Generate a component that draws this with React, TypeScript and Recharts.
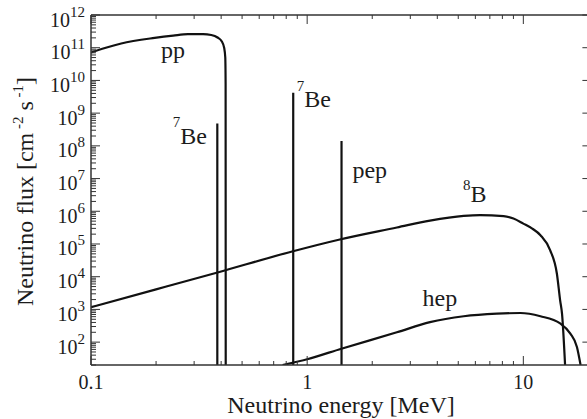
import React from 'react';
import { LineChart, Line, XAxis, YAxis, ReferenceDot } from 'recharts';

const FONT = 'Liberation Serif';
const INK = '#1c1c1c';
const FRAME = '#333';

// solar neutrino spectra, energy [MeV] vs flux [cm^-2 s^-1]
const ppSpectrum = [
  { e: 0.1, f: 7.1e10 }, { e: 0.116, f: 9.8e10 }, { e: 0.138, f: 1.35e11 },
  { e: 0.197, f: 2.0e11 }, { e: 0.24, f: 2.35e11 }, { e: 0.281, f: 2.6e11 },
  { e: 0.33, f: 2.6e11 }, { e: 0.36, f: 2.45e11 }, { e: 0.385, f: 2.05e11 },
  { e: 0.403, f: 1.55e11 }, { e: 0.413, f: 1.0e11 }, { e: 0.418, f: 5e10 }, { e: 0.4195, f: 8e9 },
  { e: 0.42, f: 20 },
];
const b8Spectrum = [
  { e: 0.1, f: 1.17e3 }, { e: 0.2, f: 4.1e3 }, { e: 0.385, f: 1.35e4 }, { e: 0.86, f: 6.0e4 },
  { e: 1.4, f: 1.35e5 }, { e: 2.6, f: 3.2e5 }, { e: 3.7, f: 5.2e5 }, { e: 5.3, f: 7.2e5 },
  { e: 6.3, f: 7.6e5 }, { e: 8.1, f: 7.1e5 }, { e: 9, f: 6.0e5 }, { e: 10, f: 4.2e5 },
  { e: 11, f: 2.95e5 }, { e: 12, f: 1.86e5 }, { e: 13.3, f: 6.5e4 }, { e: 14.3, f: 1.23e4 },
  { e: 14.8, f: 1.9e3 }, { e: 15.1, f: 740 }, { e: 15.6, f: 20 },
];
const hepSpectrum = [
  { e: 0.77, f: 20 }, { e: 1.0, f: 30 }, { e: 1.44, f: 63 }, { e: 2.6, f: 200 },
  { e: 3.7, f: 407 }, { e: 5.3, f: 617 }, { e: 7.55, f: 741 }, { e: 9.7, f: 776 },
  { e: 12, f: 617 }, { e: 14.8, f: 372 }, { e: 16.5, f: 182 }, { e: 17.7, f: 71 }, { e: 18.4, f: 20 },
];
// mono-energetic lines
const be7Low = [{ e: 0.384, f: 20 }, { e: 0.384, f: 4.8e8 }];
const be7High = [{ e: 0.862, f: 20 }, { e: 0.862, f: 4.2e9 }];
const pepLine = [{ e: 1.442, f: 20 }, { e: 1.442, f: 1.4e8 }];

const xMajor = [0.1, 1, 10];
const xMinor = [0.2, 0.3, 0.4, 0.5, 0.6, 0.7, 0.8, 0.9, 2, 3, 4, 5, 6, 7, 8, 9];
const yExponents = [2, 3, 4, 5, 6, 7, 8, 9, 10, 11, 12];
const yMinorDecades = [1, 2, 3, 4, 5, 6, 7, 8, 9, 10, 11];
const minorSteps = [2, 3, 4, 5, 6, 7, 8, 9];

const xTicks = [...xMajor, ...xMinor].sort((a, b) => a - b);
const yMajor = yExponents.map((n) => Math.pow(10, n));
const yTicks = [
  ...yMajor,
  ...yMinorDecades.flatMap((n) => minorSteps.map((k) => k * Math.pow(10, n))),
].sort((a, b) => a - b);

const isMajorX = (v: number) => xMajor.some((m) => Math.abs(m - v) < 1e-9);
const isMajorY = (v: number) => yMajor.some((m) => Math.abs(m - v) / m < 1e-9);

const BottomTick = ({ x, y, payload }: any) => {
  const major = isMajorX(payload.value);
  return (
    <g>
      <line x1={x} x2={x} y1={y} y2={y - (major ? 9 : 4)} stroke={FRAME} strokeWidth={1} />
      {major && (
        <text x={x} y={y + 23.5} textAnchor="middle" fontSize={20} fontFamily={FONT} fill={INK}>
          {String(payload.value)}
        </text>
      )}
    </g>
  );
};

const TopTick = ({ x, y, payload }: any) => {
  const major = isMajorX(payload.value);
  return <line x1={x} x2={x} y1={y} y2={y + (major ? 9 : 4)} stroke={FRAME} strokeWidth={1} />;
};

const LeftTick = ({ x, y, payload }: any) => {
  const major = isMajorY(payload.value);
  const exp = Math.round(Math.log10(payload.value));
  return (
    <g>
      <line x1={x} x2={x + (major ? 9 : 5)} y1={y} y2={y} stroke={FRAME} strokeWidth={1} />
      {major && (
        <text x={x - 6} y={y + 11.5} textAnchor="end" fontSize={20} fontFamily={FONT} fill={INK}>
          <tspan>10</tspan>
          <tspan dy={-10} fontSize={15}>{exp}</tspan>
        </text>
      )}
    </g>
  );
};

const RightTick = ({ x, y, payload }: any) =>
  isMajorY(payload.value) ? (
    <line x1={x} x2={x - 6} y1={y} y2={y} stroke={FRAME} strokeWidth={1} />
  ) : (
    <g />
  );

const tagShape = (sup: string, main: string, raise: number) => (p: any) => (
  <text x={p.cx} y={p.cy} fontSize={24} fontFamily={FONT} fill={INK}>
    {sup && <tspan fontSize={15} dy={-raise}>{sup}</tspan>}
    <tspan dy={sup ? raise : 0}>{main}</tspan>
  </text>
);

const curve = { stroke: '#111', strokeWidth: 2.2, dot: false, isAnimationActive: false, xAxisId: 'b', yAxisId: 'l', dataKey: 'f' };

export default function App() {
  return (
    <div style={{ position: 'absolute', left: 0, top: 0, width: 587, height: 419, overflow: 'hidden', background: '#fff' }}>
      <LineChart width={590} height={419} margin={{ top: 0, right: 0, bottom: 0, left: 0 }}>
        <XAxis xAxisId="b" dataKey="e" type="number" scale="log" domain={[0.1, 20]} allowDataOverflow
          ticks={xTicks} interval={0} height={54} tickSize={0} tickMargin={0} tickLine={false}
          axisLine={{ stroke: FRAME, strokeWidth: 1.5 }} tick={BottomTick} />
        <XAxis xAxisId="t" orientation="top" dataKey="e" type="number" scale="log" domain={[0.1, 20]} allowDataOverflow
          ticks={xTicks} interval={0} height={15} tickSize={0} tickMargin={0} tickLine={false}
          axisLine={{ stroke: FRAME, strokeWidth: 1.5 }} tick={TopTick} />
        <YAxis yAxisId="l" type="number" scale="log" domain={[20, 1e12]} allowDataOverflow
          ticks={yTicks} interval={0} width={91} tickSize={0} tickMargin={0} tickLine={false}
          axisLine={{ stroke: FRAME, strokeWidth: 1.5 }} tick={LeftTick} />
        <YAxis yAxisId="r" orientation="right" type="number" scale="log" domain={[20, 1e12]} allowDataOverflow
          ticks={yMajor} interval={0} width={1.6} tickSize={0} tickMargin={0} tickLine={false}
          axisLine={{ stroke: FRAME, strokeWidth: 1.5 }} tick={RightTick} />

        <Line data={ppSpectrum} type="monotone" {...curve} />
        <Line data={b8Spectrum} type="monotone" {...curve} />
        <Line data={hepSpectrum} type="monotone" {...curve} />
        <Line data={be7Low} type="linear" {...curve} />
        <Line data={be7High} type="linear" {...curve} />
        <Line data={pepLine} type="linear" {...curve} />

        <ReferenceDot xAxisId="b" yAxisId="l" x={0.211} y={4.7e10} r={0} shape={tagShape('', 'pp', 0)} />
        <ReferenceDot xAxisId="b" yAxisId="l" x={0.239} y={1.17e8} r={0} shape={tagShape('7', 'Be', 16.5)} />
        <ReferenceDot xAxisId="b" yAxisId="l" x={0.896} y={1.5e9} r={0} shape={tagShape('7', 'Be', 16.5)} />
        <ReferenceDot xAxisId="b" yAxisId="l" x={1.62} y={1.02e7} r={0} shape={tagShape('', 'pep', 0)} />
        <ReferenceDot xAxisId="b" yAxisId="l" x={5.26} y={1.95e6} r={0} shape={tagShape('8', 'B', 11.5)} />
        <ReferenceDot xAxisId="b" yAxisId="l" x={3.42} y={1.26e3} r={0} shape={tagShape('', 'hep', 0)} />

        <text x={341} y={412.5} textAnchor="middle" fontSize={24} fontFamily={FONT} fill={INK}>
          Neutrino energy [MeV]
        </text>
        <text x={33} y={191.5} transform="rotate(-90, 33, 191.5)" textAnchor="middle" fontSize={24} fontFamily={FONT} fill={INK}>
          <tspan>Neutrino flux [cm</tspan>
          <tspan dy={-10} fontSize={15}> -2</tspan>
          <tspan dy={10}> s</tspan>
          <tspan dy={-10} fontSize={15}> -1</tspan>
          <tspan dy={10}>]</tspan>
        </text>
      </LineChart>
    </div>
  );
}
